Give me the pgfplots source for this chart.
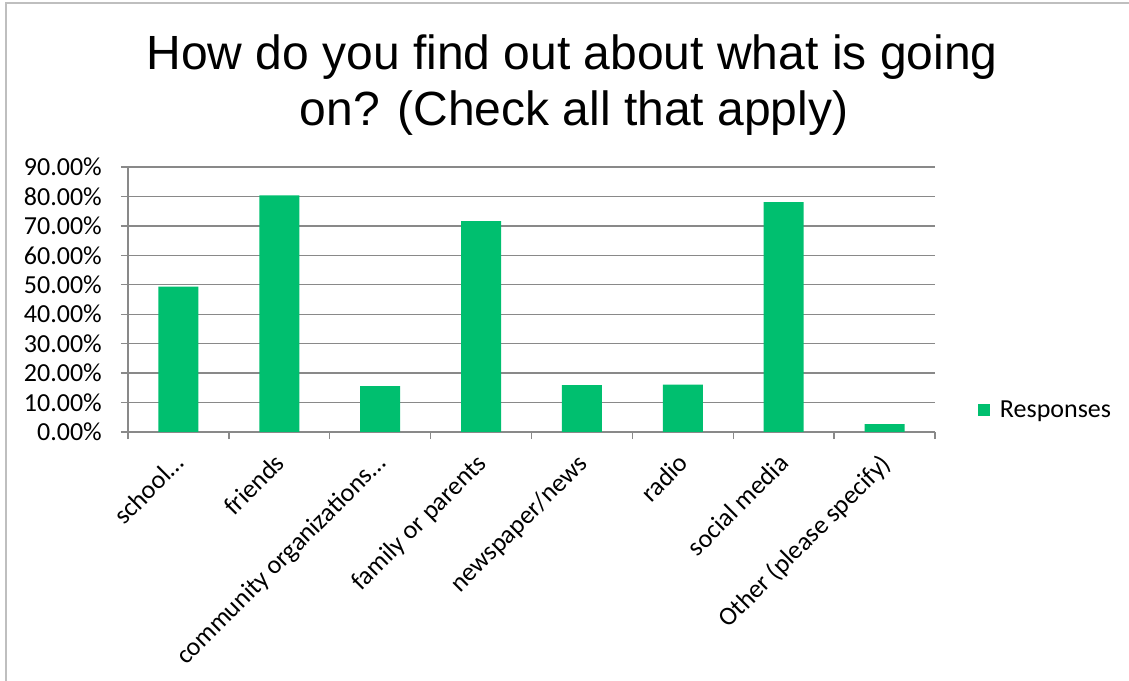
\documentclass[border=0pt]{standalone}
\usepackage{fontspec}
\setmainfont{Carlito}
\newfontfamily\titlefont{Liberation Sans}
\usepackage{pgfplots}
\pgfplotsset{compat=1.18}
\definecolor{smgreen}{HTML}{00BF6F}
\definecolor{gridgray}{HTML}{898989}
\definecolor{framegray}{HTML}{BFBFBF}
\begin{document}
\begin{tikzpicture}
\path[use as bounding box] (0,0) rectangle (1129bp,681bp);
\draw[framegray, line width=1.5bp] (6bp,0) -- (6bp,678bp) -- (1129bp,678bp);
\node[font=\titlefont\fontsize{48bp}{56bp}\selectfont, anchor=base, inner sep=0pt] at (572bp,611bp) {How do you find out about what is going};
\node[font=\titlefont\fontsize{48bp}{56bp}\selectfont, anchor=base, inner sep=0pt] at (574bp,555bp) {on? (Check all that apply)};
\begin{axis}[
  at={(128bp,249bp)}, anchor=south west,
  scale only axis, width=807bp, height=265bp,
  xmin=-0.5, xmax=7.5, ymin=0, ymax=90,
  axis x line=bottom, axis y line=left,
  axis line style={-, gridgray, line width=1.3bp},
  tick align=outside, major tick length=7bp,
  tick style={gridgray, line width=1.3bp},
  ymajorgrids, major grid style={gridgray, line width=1.3bp},
  ytick={0,10,...,90},
  yticklabels={0.00\%,10.00\%,20.00\%,30.00\%,40.00\%,50.00\%,60.00\%,70.00\%,80.00\%,90.00\%},
  yticklabel style={font=\fontsize{26bp}{30bp}\selectfont, inner sep=0pt, xshift=-19bp},
  xtick={-0.5,0.5,...,7.5}, xticklabels={},
  extra x ticks={0,1,2,3,4,5,6,7},
  extra x tick labels={school\ldots,friends,community organizations\ldots,family or parents,newspaper/news,radio,social media,Other (please specify)},
  extra x tick style={major tick length=0pt, grid=none,
    xticklabel style={font=\fontsize{26bp}{30bp}\selectfont, xshift=-6bp, yshift=-20bp, rotate=45, anchor=north east, inner sep=0pt}},
  legend style={draw=none, at={(1.053,0.083)}, anchor=west, font=\fontsize{26bp}{30bp}\selectfont, inner sep=0pt},
  legend image code/.code={\fill[smgreen] (0bp,-6bp) rectangle (12bp,6bp);},
]
\addplot[ybar, bar width=40bp, bar shift=0pt, fill=smgreen, draw=none] coordinates {
  (0,49.4) (1,80.4) (2,15.6) (3,71.6) (4,15.9) (5,16.1) (6,78.1) (7,2.7)
};
\addlegendentry{\hspace{8bp}Responses}
\end{axis}
\end{tikzpicture}
\end{document}
